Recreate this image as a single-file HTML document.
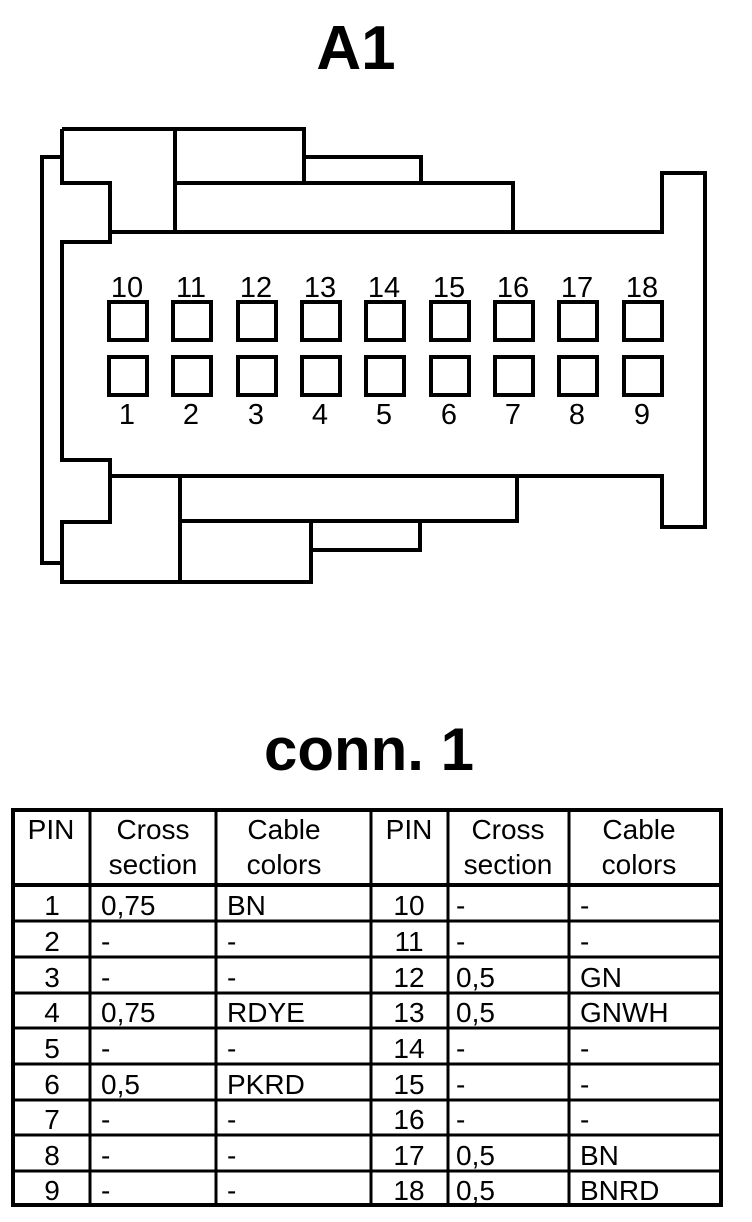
<!DOCTYPE html>
<html><head><meta charset="utf-8"><style>
html,body{margin:0;padding:0;background:#fff;}
svg{display:block;}
text{font-family:"Liberation Sans",Arial,sans-serif;fill:#000;}
</style></head><body>
<svg width="752" height="1222" viewBox="0 0 752 1222" xmlns="http://www.w3.org/2000/svg">
<text x="356" y="69" font-size="62" font-weight="bold" text-anchor="middle">A1</text>
<g fill="none" stroke="#000" stroke-width="4" stroke-linejoin="miter">
<polyline points="62,157 42,157 42,563 62,563"/>
<polyline points="62,129 175,129 175,183"/>
<polyline points="62,129 62,183 110,183 110,242 62,242 62,460 110,460 110,522 62,522 62,582 312,582"/>
<rect x="175" y="129" width="129" height="54"/>
<rect x="304" y="157" width="117" height="26"/>
<polyline points="175,183 513,183 513,232 662,232 662,173 705,173 705,527 662,527 662,476 110,476"/>
<line x1="175" y1="183" x2="175" y2="232"/>
<line x1="110" y1="232" x2="513" y2="232"/>
<rect x="180" y="476" width="337" height="45"/>
<rect x="180" y="521" width="131" height="61"/>
<rect x="311" y="521" width="109" height="29"/>
</g>
<g fill="none" stroke="#000" stroke-width="4">
<rect x="109" y="302" width="38" height="38"/><rect x="173" y="302" width="38" height="38"/><rect x="238" y="302" width="38" height="38"/><rect x="302" y="302" width="38" height="38"/><rect x="366" y="302" width="38" height="38"/><rect x="431" y="302" width="38" height="38"/><rect x="495" y="302" width="38" height="38"/><rect x="559" y="302" width="38" height="38"/><rect x="624" y="302" width="38" height="38"/>
<rect x="109" y="357" width="38" height="38"/><rect x="173" y="357" width="38" height="38"/><rect x="238" y="357" width="38" height="38"/><rect x="302" y="357" width="38" height="38"/><rect x="366" y="357" width="38" height="38"/><rect x="431" y="357" width="38" height="38"/><rect x="495" y="357" width="38" height="38"/><rect x="559" y="357" width="38" height="38"/><rect x="624" y="357" width="38" height="38"/>
</g>
<g font-size="29" text-anchor="middle">
<text x="127" y="297">10</text><text x="191" y="297">11</text><text x="256" y="297">12</text><text x="320" y="297">13</text><text x="384" y="297">14</text><text x="449" y="297">15</text><text x="513" y="297">16</text><text x="577" y="297">17</text><text x="642" y="297">18</text>
<text x="127" y="424">1</text><text x="191" y="424">2</text><text x="256" y="424">3</text><text x="320" y="424">4</text><text x="384" y="424">5</text><text x="449" y="424">6</text><text x="513" y="424">7</text><text x="577" y="424">8</text><text x="642" y="424">9</text>
</g>
<text x="369" y="770" font-size="60" font-weight="bold" text-anchor="middle">conn. 1</text>
<g stroke="#000" stroke-width="3" fill="none">
<rect x="13" y="810" width="708" height="395" stroke-width="4"/>
<line x1="90" y1="810" x2="90" y2="1205"/>
<line x1="216" y1="810" x2="216" y2="1205"/>
<line x1="371" y1="810" x2="371" y2="1205"/>
<line x1="448" y1="810" x2="448" y2="1205"/>
<line x1="569" y1="810" x2="569" y2="1205"/>
<line x1="13" y1="885" x2="721" y2="885" stroke-width="4"/>
<line x1="13" y1="921" x2="721" y2="921"/>
<line x1="13" y1="957" x2="721" y2="957"/>
<line x1="13" y1="993" x2="721" y2="993"/>
<line x1="13" y1="1028" x2="721" y2="1028"/>
<line x1="13" y1="1064" x2="721" y2="1064"/>
<line x1="13" y1="1100" x2="721" y2="1100"/>
<line x1="13" y1="1135" x2="721" y2="1135"/>
<line x1="13" y1="1171" x2="721" y2="1171"/>
</g>
<g font-size="28">
<text x="51" y="839" text-anchor="middle">PIN</text>
<text x="153" y="839" text-anchor="middle">Cross</text><text x="153" y="874" text-anchor="middle">section</text>
<text x="284" y="839" text-anchor="middle">Cable</text><text x="284" y="874" text-anchor="middle">colors</text>
<text x="409" y="839" text-anchor="middle">PIN</text>
<text x="508" y="839" text-anchor="middle">Cross</text><text x="508" y="874" text-anchor="middle">section</text>
<text x="639" y="839" text-anchor="middle">Cable</text><text x="639" y="874" text-anchor="middle">colors</text>
</g>
<g font-size="28">
<g text-anchor="middle">
<text x="52" y="915">1</text><text x="52" y="951">2</text><text x="52" y="987">3</text><text x="52" y="1022">4</text><text x="52" y="1058">5</text><text x="52" y="1094">6</text><text x="52" y="1129">7</text><text x="52" y="1165">8</text><text x="52" y="1200">9</text>
<text x="409" y="915">10</text><text x="409" y="951">11</text><text x="409" y="987">12</text><text x="409" y="1022">13</text><text x="409" y="1058">14</text><text x="409" y="1094">15</text><text x="409" y="1129">16</text><text x="409" y="1165">17</text><text x="409" y="1200">18</text>
</g>
<text x="101" y="915">0,75</text><text x="101" y="951">-</text><text x="101" y="987">-</text><text x="101" y="1022">0,75</text><text x="101" y="1058">-</text><text x="101" y="1094">0,5</text><text x="101" y="1129">-</text><text x="101" y="1165">-</text><text x="101" y="1200">-</text>
<text x="227" y="915">BN</text><text x="227" y="951">-</text><text x="227" y="987">-</text><text x="227" y="1022">RDYE</text><text x="227" y="1058">-</text><text x="227" y="1094">PKRD</text><text x="227" y="1129">-</text><text x="227" y="1165">-</text><text x="227" y="1200">-</text>
<text x="456" y="915">-</text><text x="456" y="951">-</text><text x="456" y="987">0,5</text><text x="456" y="1022">0,5</text><text x="456" y="1058">-</text><text x="456" y="1094">-</text><text x="456" y="1129">-</text><text x="456" y="1165">0,5</text><text x="456" y="1200">0,5</text>
<text x="580" y="915">-</text><text x="580" y="951">-</text><text x="580" y="987">GN</text><text x="580" y="1022">GNWH</text><text x="580" y="1058">-</text><text x="580" y="1094">-</text><text x="580" y="1129">-</text><text x="580" y="1165">BN</text><text x="580" y="1200">BNRD</text>
</g>
</svg>
</body></html>
